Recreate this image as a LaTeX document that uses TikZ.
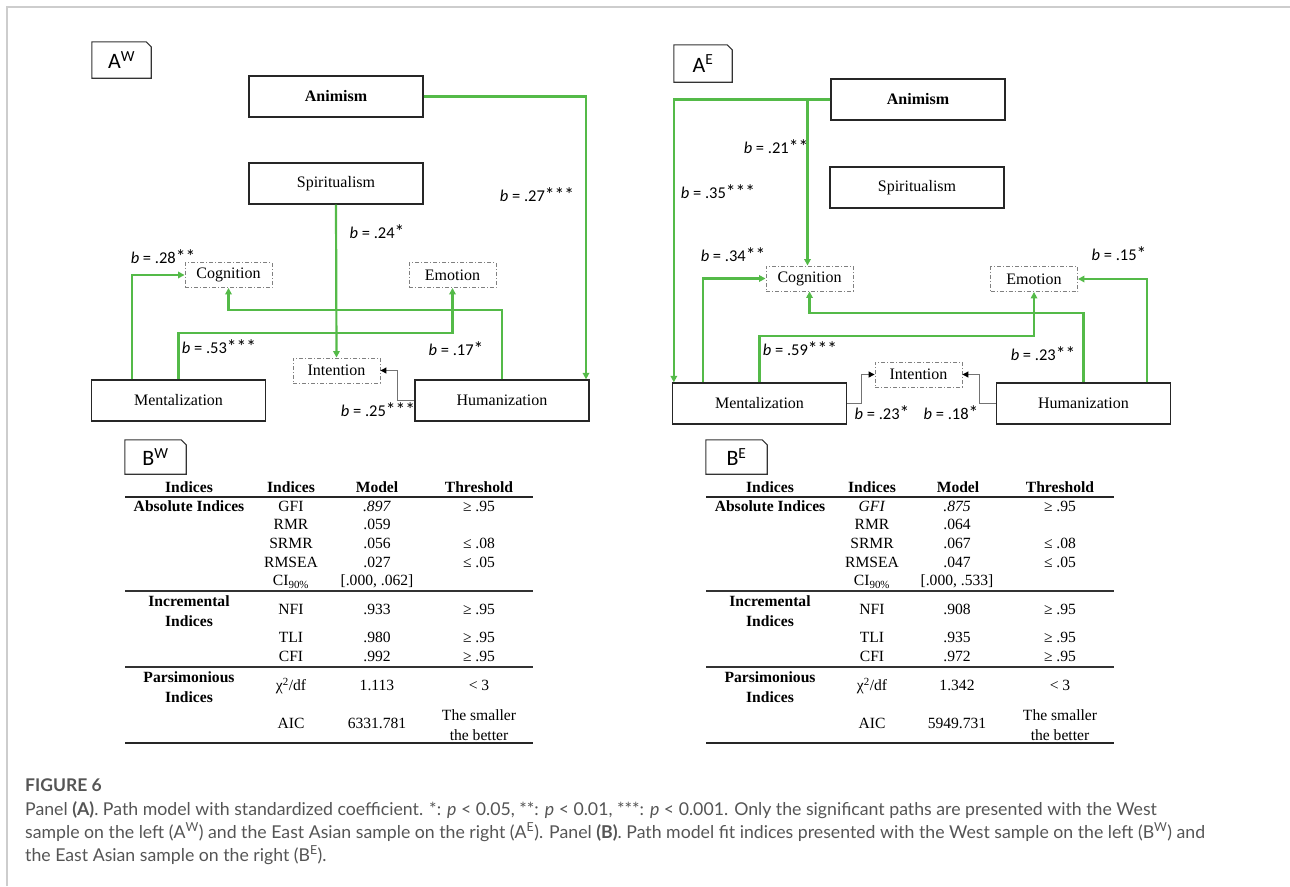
\documentclass[tikz,border=0pt]{standalone}
\usepackage{fontspec}
\setmainfont{Liberation Serif}
\newfontfamily\calibri{Carlito}
\newfontfamily\capfont{Lato}
\usetikzlibrary{arrows.meta,positioning}
\definecolor{pathgreen}{RGB}{84,186,72}
\definecolor{framegray}{RGB}{205,205,205}
\definecolor{capgray}{RGB}{85,85,85}

\tikzset{
  varbox/.style={draw=black!85, line width=1.3pt, minimum width=174pt, minimum height=41pt,
    inner sep=0pt, font=\fontsize{16}{19}\selectfont},
  outbox/.style={draw=black!50, line width=0.9pt, dash pattern=on 4pt off 2pt on 1pt off 2pt,
    minimum width=87pt, minimum height=25pt, inner sep=0pt, font=\fontsize{16}{19}\selectfont},
  gpath/.style={draw=pathgreen, line width=2.2pt, -{Triangle[length=6.5pt,width=6.5pt]}},
  kpath/.style={draw=black!55, line width=1.1pt, -{Triangle[length=6pt,width=6pt,color=black]}},
  coef/.style={font=\calibri\fontsize{16.5}{19}\selectfont, inner sep=0pt},
  panel/.style={font=\calibri\fontsize{22}{24}\selectfont, minimum width=59pt, minimum height=36pt, inner sep=0pt},
  cell/.style={font=\fontsize{15.6}{20}\selectfont, inner sep=0pt, align=center, text height=10.5pt, text depth=3pt},
  rulethin/.style={draw=black!80, line width=1.3pt},
}
% box with the folded corner round a panel label
\newcommand\panelframe[1]{%
  \draw[black!80, line width=1.1pt] (#1.south west) -- (#1.north west) -- ([xshift=-5pt]#1.north east)
    -- ([yshift=-5pt]#1.north east) -- (#1.south east) -- cycle;}
% significance stars, a bit larger than the text
\newcommand\sigst[1]{{\fontsize{19.5}{19.5}\selectfont#1}}

\begin{document}
\begin{tikzpicture}[x=1pt, y=-1pt]
  \useasboundingbox (0,0) rectangle (1290,886);
  \draw[framegray, line width=1.2pt] (7,886) -- (7,7) -- (1290,7);

  % ---- panel A, West sample
  \node[panel] (lAW) at (121.5,60) {A\textsuperscript{W}};
  \panelframe{lAW}
  \node[varbox] (aniW) at (336,96.5) {\textbf{Animism}};
  \node[varbox] (spiW) at (336,183.5) {Spiritualism};
  \node[outbox] (cogW) at (228.5,275) {Cognition};
  \node[outbox] (emoW) at (452.5,275) {Emotion};
  \node[outbox] (intW) at (336.5,370.5) {Intention};
  \node[varbox] (mentW) at (178.5,400.5) {Mentalization};
  \node[varbox] (humW) at (502,400.5) {Humanization};

  \draw[gpath] (aniW.east) -| ([xshift=84pt]humW.north);
  \draw[gpath] (spiW.south) -- (intW.north);
  \draw[gpath] ([xshift=-46.5pt]mentW.north) |- (cogW.west);
  \draw[gpath] (mentW.north) -- ++(0,-46) -| (emoW.south);
  \draw[gpath] (humW.north) -- ++(0,-69) -| (cogW.south);
  \draw[kpath] (humW.west) -- ++(-17,0) |- (intW.east);

  \node[coef] (c27W) at (537,195) {\textit{b} = .27\sigst{***}};
  \node[coef] (c24W) at (377,232) {\textit{b} = .24\sigst{*}};
  \node[coef] (c28W) at (163,257) {\textit{b} = .28\sigst{**}};
  \node[coef] (c53W) at (219,347) {\textit{b} = .53\sigst{***}};
  \node[coef] (c17W) at (456,349) {\textit{b} = .17\sigst{*}};
  \node[coef] (c25W) at (378,410) {\textit{b} = .25\sigst{***}};

  % ---- panel A, East Asian sample
  \node[panel, minimum width=58pt, minimum height=37pt] (lAE) at (703,63.5) {A\textsuperscript{E}};
  \panelframe{lAE}
  \node[varbox] (aniE) at (918,99.5) {\textbf{Animism}};
  \node[varbox] (spiE) at (917,187.5) {Spiritualism};
  \node[outbox] (cogE) at (809.5,278.5) {Cognition};
  \node[outbox] (emoE) at (1034,279) {Emotion};
  \node[outbox] (intE) at (918.5,374.5) {Intention};
  \node[varbox] (mentE) at (759.5,403.5) {Mentalization};
  \node[varbox] (humE) at (1083.5,403.5) {Humanization};

  \draw[gpath] (aniE.west) -| ([xshift=2pt]mentE.north west);
  \draw[gpath] (aniE.west) -| ([xshift=-2pt]cogE.north);
  \draw[gpath] ([xshift=-56.5pt]mentE.north) |- (cogE.west);
  \draw[gpath] (mentE.north) -- ++(0,-46) -| (emoE.south);
  \draw[gpath] (humE.north) -- ++(0,-69) -| (cogE.south);
  \draw[gpath] ([xshift=63.5pt]humE.north) |- (emoE.east);
  \draw[kpath] (mentE.east) -- ++(14,0) |- (intE.west);
  \draw[kpath] (humE.west) -- ++(-16,0) |- (intE.east);

  \node[coef] (c21E) at (776,147) {\textit{b} = .21\sigst{**}};
  \node[coef] (c35E) at (718,192) {\textit{b} = .35\sigst{***}};
  \node[coef] (c34E) at (733,255) {\textit{b} = .34\sigst{**}};
  \node[coef] (c15E) at (1119,254) {\textit{b} = .15\sigst{*}};
  \node[coef] (c59E) at (800,349) {\textit{b} = .59\sigst{***}};
  \node[coef] (c23E) at (1043,354) {\textit{b} = .23\sigst{**}};
  \node[coef] (c23mE) at (882,413) {\textit{b} = .23\sigst{*}};
  \node[coef] (c18E) at (951,413) {\textit{b} = .18\sigst{*}};

  % ---- panel B, fit indices (layout shared by both tables)
  \node[panel, minimum width=61pt, minimum height=34pt] (lBW) at (155.5,457) {B\textsuperscript{W}};
  \panelframe{lBW}
  \node[panel, minimum width=61pt, minimum height=34pt] (lBE) at (736.5,457) {B\textsuperscript{E}};
  \panelframe{lBE}

  \foreach \tx in {125,706} {
    \begin{scope}[shift={(\tx,0)}]
      \foreach \cx/\head [count=\i] in {64/Indices,166/Indices,252/Model,354/Threshold}
        \node[cell, font=\fontsize{15.6}{20}\selectfont\bfseries] (hd\i-\tx) at (\cx,489) {\head};
      \draw[black!85, line width=1.8pt] (0,497) -- (408,497);
      \foreach \ry in {591,667}
        \draw[rulethin] (0,\ry) -- (408,\ry);
      \draw[black!85, line width=1.6pt] (0,743) -- (408,743);
      \node[cell, font=\fontsize{15.6}{20}\selectfont\bfseries] (gA-\tx) at (64,508) {Absolute Indices};
      \node[cell, font=\fontsize{15.6}{20}\selectfont\bfseries, text height=, text depth=] (gI-\tx) at (64,611) {Incremental\\Indices};
      \node[cell, font=\fontsize{15.6}{20}\selectfont\bfseries, text height=, text depth=] (gP-\tx) at (64,687) {Parsimonious\\Indices};
      \foreach \ry/\ix [count=\i] in {526/RMR,545/SRMR,564/RMSEA,582/CI\textsubscript{90\%},611/NFI,
          639/TLI,658/CFI,687/{χ\textsuperscript{2}/df},725/AIC}
        \node[cell] (ix\i-\tx) at (166,\ry) {\ix};
      \foreach \ry/\th [count=\i] in {508/≥ .95,545/≤ .08,564/≤ .05,611/≥ .95,639/≥ .95,658/≥ .95,687/< 3}
        \node[cell] (th\i-\tx) at (354,\ry) {\th};
      \node[cell, text height=, text depth=] (thA-\tx) at (354,725) {The smaller\\the better};
    \end{scope}
  }

  % model values, West sample
  \begin{scope}[shift={(125,0)}]
    \node[cell] (gfiW) at (166,508) {GFI};
    \foreach \ry/\v [count=\i] in {508/\textit{.897},526/.059,545/.056,564/.027,582/{[.000, .062]},
        611/.933,639/.980,658/.992,687/1.113,725/6331.781}
      \node[cell] (vW\i) at (252,\ry) {\v};
  \end{scope}
  % model values, East Asian sample
  \begin{scope}[shift={(706,0)}]
    \node[cell] (gfiE) at (166,508) {\textit{GFI}};
    \foreach \ry/\v [count=\i] in {508/\textit{.875},526/.064,545/.067,564/.047,582/{[.000, .533]},
        611/.908,639/.935,658/.972,687/1.342,725/5949.731}
      \node[cell] (vE\i) at (251,\ry) {\v};
  \end{scope}

  % ---- caption
  \node[anchor=base west, inner sep=0pt, text=capgray, font=\capfont\bfseries\fontsize{17.5}{20}\selectfont]
    (fig) at (25,791) {FIGURE 6};
  \node[anchor=base west, inner sep=0pt, align=left, text=capgray, font=\capfont\fontsize{17.7}{23}\selectfont]
    (cap) at (25,861) {Panel \textbf{(A)}. Path model with standardized coefficient. *: \textit{p} < 0.05, **: \textit{p} < 0.01, ***: \textit{p} < 0.001. Only the significant paths are presented with the West\\
    sample on the left (A\textsuperscript{W}) and the East Asian sample on the right (A\textsuperscript{E}). Panel \textbf{(B)}. Path model fit indices presented with the West sample on the left (B\textsuperscript{W}) and\\
    the East Asian sample on the right (B\textsuperscript{E}).};
\end{tikzpicture}
\end{document}
